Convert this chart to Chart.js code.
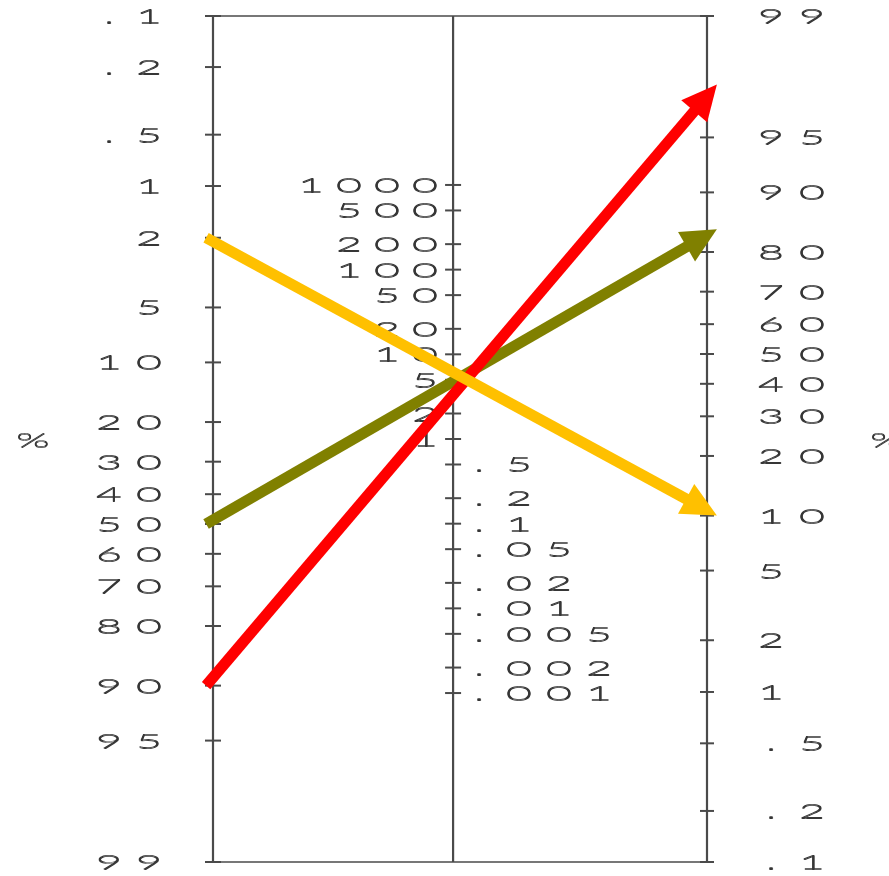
<!DOCTYPE html>
<html>
<head>
<meta charset="utf-8">
<title>Fagan nomogram</title>
<script src="https://cdn.jsdelivr.net/npm/chart.js@4.4.1/dist/chart.umd.min.js"></script>
<style>
  html, body { margin: 0; padding: 0; background: #ffffff; }
  canvas { display: block; }
</style>
</head>
<body>
<canvas id="nomogram" width="889" height="876"></canvas>
<script>
// Pre-test probability scale (left axis), in %
const preTicks  = [0.1, 0.2, 0.5, 1, 2, 5, 10, 20, 30, 40, 50, 60, 70, 80, 90, 95, 99];
const preLabels = ['.1', '.2', '.5', '1', '2', '5', '10', '20', '30', '40', '50', '60', '70', '80', '90', '95', '99'];

// Likelihood ratio scale (middle axis)
const lrTicks  = [1000, 500, 200, 100, 50, 20, 10, 5, 2, 1, 0.5, 0.2, 0.1, 0.05, 0.02, 0.01, 0.005, 0.002, 0.001];
const lrLabels = ['1000', '500', '200', '100', '50', '20', '10', '5', '2', '1', '.5', '.2', '.1', '.05', '.02', '.01', '.005', '.002', '.001'];

// Post-test probability scale (right axis), in %
const postTicks  = [99, 95, 90, 80, 70, 60, 50, 40, 30, 20, 10, 5, 2, 1, 0.5, 0.2, 0.1];
const postLabels = ['99', '95', '90', '80', '70', '60', '50', '40', '30', '20', '10', '5', '2', '1', '.5', '.2', '.1'];

// Arrows: pre-test probability (%) -> post-test probability (%)
const arrowNames = ['low prior', 'medium prior', 'high prior'];
const arrowPre   = [2, 50, 90];
const arrowPost  = [10, 84.5, 97.5];

// ---- styling ----
const arrowColors = ['#FFC000', '#808000', '#FF0000'];
const arrowOrder  = [0, 2, 1];          // yellow on top, then red, then olive
const ARROW_WIDTH = 11;
const HEAD_LEN = 35, HEAD_HALF = 17;
const X_START = -0.014, X_END = 1.02;  // arrows run slightly past the outer axes
const MID_X = 0.486;                    // horizontal place of the likelihood-ratio axis
const AXIS_COLOR = '#4a4a4a';
const TEXT_COLOR = '#363636';
const FONT_FAMILY = 'Lato';
const FONT_WEIGHT = 300;
const DIGIT_H = 15;   // digit height, px
const GLYPH_W = 27;   // width of a wide glyph such as "0", px

// ---- nomogram geometry (logit scale) ----
const logit = p => Math.log(p / (100 - p));
const U_TOP = logit(preTicks[0]);
const U_BOTTOM = logit(preTicks[preTicks.length - 1]);
const U_SHIFT = U_TOP + U_BOTTOM;
const uPre  = p => logit(p);
const uPost = p => U_SHIFT - logit(p);
const uLR   = r => (U_SHIFT - Math.log(r)) / 2;

const datasets = arrowPre.map((p, i) => ({
  label: arrowNames[i],
  data: [{ x: X_START, y: uPre(p) }, { x: X_END, y: uPost(arrowPost[i]) }],
  borderColor: arrowColors[i],
  backgroundColor: arrowColors[i],
  borderWidth: ARROW_WIDTH,
  borderCapStyle: 'butt',
  pointRadius: 0,
  tension: 0,
  fill: false,
  clip: false,
  order: arrowOrder[i]
}));

function fontMetrics(ctx) {
  ctx.font = `${FONT_WEIGHT} 100px ${FONT_FAMILY}`;
  const m = ctx.measureText('0');
  const size = 100 * DIGIT_H / (m.actualBoundingBoxAscent + m.actualBoundingBoxDescent);
  const font = `${FONT_WEIGHT} ${size.toFixed(2)}px ${FONT_FAMILY}`;
  ctx.font = font;
  const m2 = ctx.measureText('0');
  const ink = m2.actualBoundingBoxLeft + m2.actualBoundingBoxRight;
  const pm = ctx.measureText('%');
  return {
    font,
    sx: GLYPH_W / ink,
    sxPct: 30 / (pm.actualBoundingBoxLeft + pm.actualBoundingBoxRight),
    half: Math.round((m2.actualBoundingBoxAscent - m2.actualBoundingBoxDescent) / 2)
  };
}

// one glyph, stretched sideways, with its horizontal strokes thickened a little
function plotGlyph(ctx, ch, x, y, sx, half) {
  ctx.save();
  ctx.translate(Math.round(x), Math.round(y));
  ctx.scale(sx, 1);
  ctx.fillText(ch, 0, half);
  ctx.fillText(ch, 0, half + 1);
  ctx.restore();
}

// Fixed-pitch lettering in the style of a pen plotter
function plotText(ctx, fm, text, anchorX, y, align, pitch) {
  const n = text.length;
  const first = align === 'right'
    ? anchorX - GLYPH_W / 2 - (n - 1) * pitch
    : anchorX + GLYPH_W / 2;
  for (let i = 0; i < n; i++) plotGlyph(ctx, text[i], first + i * pitch, y, fm.sx, fm.half);
}

function hLine(ctx, x0, x1, y) { ctx.beginPath(); ctx.moveTo(x0, y); ctx.lineTo(x1, y); ctx.stroke(); }
function vLine(ctx, x, y0, y1) { ctx.beginPath(); ctx.moveTo(x, y0); ctx.lineTo(x, y1); ctx.stroke(); }

const nomogramAxes = {
  id: 'nomogramAxes',
  beforeDatasetsDraw(chart) {
    const { ctx, scales: { x, y } } = chart;
    const xl = x.getPixelForValue(0), xm = x.getPixelForValue(MID_X), xr = x.getPixelForValue(1);
    const yt = y.getPixelForValue(U_TOP), yb = y.getPixelForValue(U_BOTTOM);
    ctx.save();
    ctx.strokeStyle = AXIS_COLOR;
    ctx.lineWidth = 1.5;
    hLine(ctx, xl, xr, yt);
    hLine(ctx, xl, xr, yb);
    ctx.lineWidth = 2.2;
    vLine(ctx, xl, yt, yb);
    vLine(ctx, xm, yt, yb);
    vLine(ctx, xr, yt, yb);

    ctx.lineWidth = 2;
    preTicks.forEach(v => hLine(ctx, xl - 8, xl + 8, y.getPixelForValue(uPre(v))));
    lrTicks.forEach(v => hLine(ctx, xm - 8, xm + 8, y.getPixelForValue(uLR(v))));
    postTicks.forEach(v => hLine(ctx, xr - 7, xr + 7, y.getPixelForValue(uPost(v))));

    const fm = fontMetrics(ctx);
    ctx.font = fm.font;
    ctx.fillStyle = TEXT_COLOR;
    ctx.textAlign = 'center';
    ctx.textBaseline = 'alphabetic';
    preTicks.forEach((v, i) => plotText(ctx, fm, preLabels[i], xl - 51, y.getPixelForValue(uPre(v)), 'right', 40));
    lrTicks.forEach((v, i) => {
      const py = y.getPixelForValue(uLR(v));
      if (v >= 1) plotText(ctx, fm, lrLabels[i], xm - 15, py, 'right', 38);
      else plotText(ctx, fm, lrLabels[i], xm + 12, py, 'left', 40);
    });
    postTicks.forEach((v, i) => plotText(ctx, fm, postLabels[i], xr + 50, y.getPixelForValue(uPost(v)), 'left', 41));

    // axis titles
    const yc = (yt + yb) / 2 + 1;
    plotGlyph(ctx, '%', xl - 180, yc, fm.sxPct, fm.half);
    plotGlyph(ctx, '%', xr + 180, yc, fm.sxPct, fm.half);
    ctx.restore();
  }
};

// Arrow heads at the post-test end of each line
const arrowHeads = {
  id: 'arrowHeads',
  beforeDatasetDraw(chart, args) {
    const pts = args.meta.data;
    const a = pts[pts.length - 2], b = pts[pts.length - 1];
    const dx = b.x - a.x, dy = b.y - a.y, len = Math.hypot(dx, dy);
    b.$tip = { x: b.x, y: b.y, ux: dx / len, uy: dy / len };
    b.x -= b.$tip.ux * HEAD_LEN * 0.6;
    b.y -= b.$tip.uy * HEAD_LEN * 0.6;
    delete args.meta.dataset._path;
  },
  afterDatasetDraw(chart, args) {
    const { ctx } = chart;
    const pts = args.meta.data;
    const b = pts[pts.length - 1];
    const t = b.$tip;
    if (!t) return;
    b.x = t.x; b.y = t.y;
    const bx = t.x - t.ux * HEAD_LEN, by = t.y - t.uy * HEAD_LEN;
    const nx = -t.uy, ny = t.ux;
    ctx.save();
    ctx.fillStyle = args.meta.dataset.options.borderColor;
    ctx.beginPath();
    ctx.moveTo(t.x, t.y);
    ctx.lineTo(bx + nx * HEAD_HALF, by + ny * HEAD_HALF);
    ctx.lineTo(bx - nx * HEAD_HALF, by - ny * HEAD_HALF);
    ctx.closePath();
    ctx.fill();
    ctx.restore();
  }
};

new Chart(document.getElementById('nomogram'), {
  type: 'line',
  data: { datasets },
  options: {
    responsive: false,
    animation: false,
    devicePixelRatio: 1,
    events: [],
    layout: { padding: { left: 213, right: 182, top: 16, bottom: 14 } },
    scales: {
      x: { type: 'linear', min: 0, max: 1, display: false },
      y: { type: 'linear', min: U_TOP, max: U_BOTTOM, reverse: true, display: false }
    },
    plugins: {
      legend: { display: false },
      tooltip: { enabled: false }
    }
  },
  plugins: [nomogramAxes, arrowHeads]
});
</script>
</body>
</html>
